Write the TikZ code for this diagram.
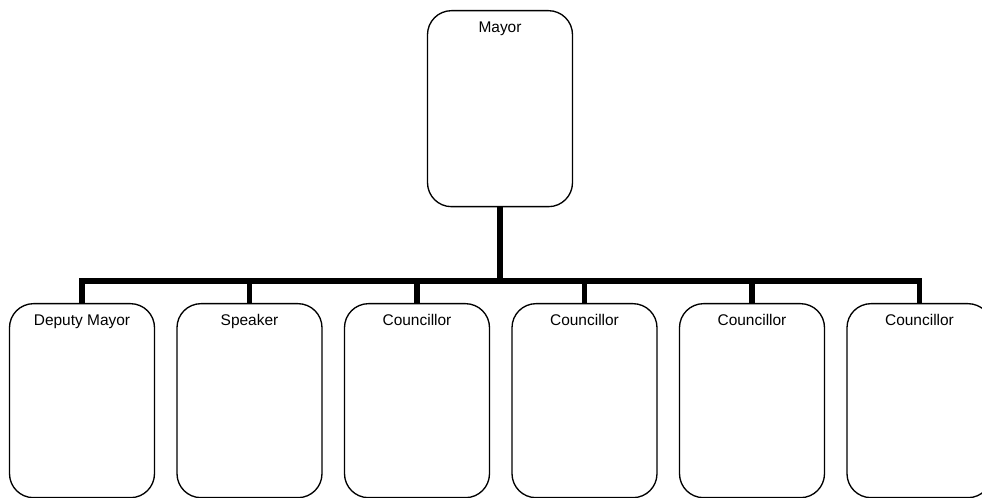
\documentclass[tikz,border=0pt]{standalone}
\usepackage{fontspec}
\setmainfont{Liberation Sans}
\begin{document}
\begin{tikzpicture}[x=0.75pt,y=-0.75pt,
  post/.style={draw=black, line width=1pt, fill=white, rounded corners=18pt,
    minimum width=108.75pt, inner sep=0pt, anchor=north},
  title/.style={anchor=base, font=\fontsize{11.6}{13}\selectfont, inner sep=0pt, yshift=-16.9pt},
  conn/.style={draw=black, line width=4.1pt}]
\useasboundingbox (0,0) rectangle (982,498);
\clip (0,0) rectangle (982,498);
\fill[white] (0,0) rectangle (982,498);

% head of the council
\node[post, minimum height=147pt, label={[title]north:Mayor}] (mayor) at (500,10) {};

% council members
\node[post, minimum height=145.5pt, label={[title]north:Deputy Mayor}] (c1) at (82,303) {};
\node[post, minimum height=145.5pt, label={[title]north:Speaker}] (c2) at (249.5,303) {};
\node[post, minimum height=145.5pt, label={[title]north:Councillor}] (c3) at (417,303) {};
\node[post, minimum height=145.5pt, label={[title]north:Councillor}] (c4) at (584.5,303) {};
\node[post, minimum height=145.5pt, label={[title]north:Councillor}] (c5) at (752,303) {};
\node[post, minimum height=145.5pt, label={[title]north:Councillor}] (c6) at (919.5,303) {};

% reporting lines
\coordinate (bus) at (500,281);
\draw[conn] (mayor.south) -- (bus);
\draw[conn] (c1.north) |- (c6.north |- bus) -- (c6.north);
\foreach \n in {c2,c3,c4,c5}
  \draw[conn] (\n.north) -- (\n.north |- bus);
\end{tikzpicture}
\end{document}
